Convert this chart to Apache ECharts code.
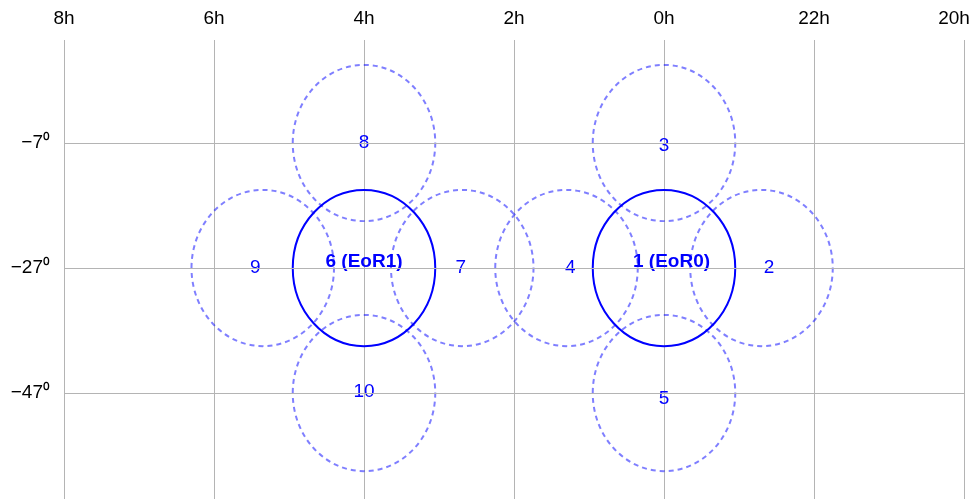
<!DOCTYPE html>
<html>
<head>
<meta charset="utf-8">
<style>
  html, body { margin: 0; padding: 0; background: #fff; }
  #containergraph { width: 972px; height: 499px; }
</style>
<script src="https://cdn.jsdelivr.net/npm/echarts@6/dist/echarts.min.js"></script>
</head>
<body>
<div id="containergraph"></div>
<script>
// field centres (RA in hours, Dec in degrees)
const fieldNames = ["1 (EoR0)", "2", "3", "4", "5", "6 (EoR1)", "7", "8", "9", "10"];
const fieldRA = [0, -1.3, 0, 1.3, 0, 4, 2.69, 4, 5.35, 4];
const fieldDec = [-27, -27, -7, -27, -47, -27, -27, -7, -27, -47];
const fieldMain = [true, false, false, false, false, true, false, false, false, false];
// where each number sits
const labelRA = [-0.1, -1.4, 0, 1.25, 0, 4, 2.71, 4, 5.45, 4];
const labelDec = [-26.0, -27.0, -7.5, -27.0, -47.9, -26.0, -27.0, -7.0, -27.0, -46.8];
// field radius (hours, degrees)
const radiusRA = 0.95;
const radiusDec = 12.5;
// declination lines
const decLines = [-7, -27, -47];

let dom = document.getElementById("containergraph");
let myChart = echarts.init(dom, null, { renderer: "canvas" });

let fields = fieldNames.map((n, i) => [fieldRA[i], fieldDec[i], labelRA[i], labelDec[i], fieldMain[i] ? 1 : 0, n]);

let option = {
  animation: false,
  grid: { left: 64, right: 8, top: 40, bottom: 0, outerBoundsMode: "none" },
  xAxis: {
    type: "value",
    min: -4,
    max: 8,
    interval: 2,
    inverse: true,
    position: "top",
    axisLine: { show: false },
    axisTick: { show: false },
    axisLabel: {
      margin: 12,
      fontSize: 19,
      color: "#000",
      fontFamily: "Liberation Sans",
      // last label (20h) is pulled in so it fits the window
      formatter: v => (v === -4 ? "{e|" : "{n|") + (v < 0 ? v + 24 : v) + "h}",
      rich: {
        n: { fontSize: 19, color: "#000", fontFamily: "Liberation Sans" },
        e: { fontSize: 19, color: "#000", fontFamily: "Liberation Sans", padding: [0, 20, 0, 0] },
      },
    },
    splitLine: { show: true, lineStyle: { color: "#b4b4b4", width: 1 } },
  },
  yAxis: {
    type: "value",
    min: -63.96,
    max: 9.48,
    show: false,
    splitLine: { show: false },
  },
  series: [
    {
      type: "line",
      data: [],
      silent: true,
      markLine: {
        symbol: "none",
        silent: true,
        lineStyle: { color: "#b4b4b4", width: 1, type: "solid" },
        label: {
          position: "end",
          distance: 14,
          fontSize: 19,
          color: "#000",
          fontFamily: "Liberation Sans",
          formatter: p => "\u2212" + Math.abs(p.value) + "\u2070",
        },
        data: decLines.map(d => ({ yAxis: d })),
      },
    },
    {
      type: "custom",
      data: fields,
      renderItem: function (params, api) {
        let c = api.coord([api.value(0), api.value(1)]);
        let s = api.size([radiusRA * 2, radiusDec * 2], [api.value(0), api.value(1)]);
        let t = api.coord([api.value(2), api.value(3)]);
        let main = api.value(4) === 1;
        return {
          type: "group",
          children: [
            {
              type: "ellipse",
              shape: { cx: c[0], cy: c[1], rx: s[0] / 2, ry: s[1] / 2 },
              style: {
                fill: "none",
                stroke: main ? "#0000ff" : "rgba(0,0,255,0.5)",
                lineWidth: 2,
                lineDash: main ? null : [5, 4],
              },
            },
            {
              type: "text",
              x: t[0],
              y: t[1],
              style: {
                text: fields[params.dataIndex][5],
                fill: "#0000ff",
                fontSize: 19,
                fontWeight: main ? "bold" : "normal",
                fontFamily: "Liberation Sans",
                align: "center",
                verticalAlign: "middle",
              },
            },
          ],
        };
      },
    },
  ],
};

myChart.setOption(option);
window.addEventListener("resize", myChart.resize);
</script>
</body>
</html>
